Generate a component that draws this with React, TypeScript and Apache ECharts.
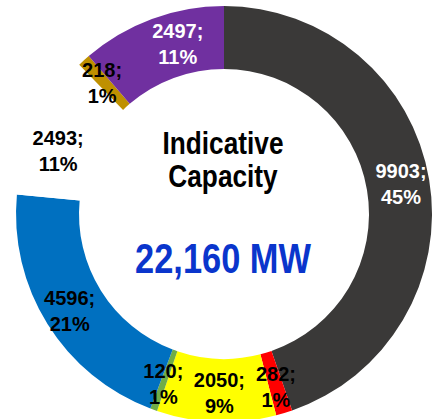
import React, { useEffect, useRef } from "react";
import * as echarts from "echarts";

const categories = ["A", "B", "C", "D", "E", "F", "G", "H"];
const values = [9903, 282, 2050, 120, 4596, 2493, 218, 2497];
const percents = ["45%", "1%", "9%", "1%", "21%", "11%", "1%", "11%"];
const colors = ["#3A3938", "#FF0000", "#FFFF00", "#70AD47", "#0070C0", "#FFFFFF", "#BF9000", "#7030A0"];
const labelColors = ["#FFFFFF", "#000000", "#000000", "#000000", "#000000", "#000000", "#000000", "#FFFFFF"];
const labelOffsets = [[0, 0], [0, 1], [2, 0], [0, 1], [-2, 2], [-4, 15], [-1, 2], [16, -2]];
const titleLines = ["Indicative", "Capacity"];
const totalText = "22,160 MW";

const FONT = "'Liberation Sans', Arial, sans-serif";

export default function App() {
  const ref = useRef<HTMLDivElement>(null);
  useEffect(() => {
    document.body.style.margin = "0";
    const chart = echarts.init(ref.current!, null, { renderer: "svg" });
    chart.setOption({
      animation: false,
      backgroundColor: "#FFFFFF",
      graphic: [
        {
          type: "text",
          x: 223,
          y: 127,
          scaleX: 0.82,
          style: {
            text: titleLines.join("\n"),
            font: `bold 32px ${FONT}`,
            fill: "#000000",
            textAlign: "center",
            textVerticalAlign: "top",
            lineHeight: 33,
          },
        },
        {
          type: "text",
          x: 223,
          y: 237,
          scaleX: 0.8,
          style: {
            text: totalText,
            font: `bold 43px ${FONT}`,
            fill: "#0A35CC",
            textAlign: "center",
            textVerticalAlign: "top",
          },
        },
      ],
      series: [
        {
          type: "pie",
          center: [224, 214],
          radius: [145, 208],
          startAngle: 90,
          clockwise: true,
          avoidLabelOverlap: false,
          label: {
            show: true,
            position: "inside",
            fontFamily: FONT,
            fontWeight: "bold",
            fontSize: 20,
            lineHeight: 26,
          },
          labelLine: { show: false },
          emphasis: { disabled: true },
          data: categories.map((c, i) => ({
            name: c,
            value: values[i],
            itemStyle: { color: colors[i] },
            label: {
              color: labelColors[i],
              offset: labelOffsets[i],
              formatter: `${values[i]};\n${percents[i]}`,
            },
          })),
        },
      ],
    });
    return () => chart.dispose();
  }, []);
  return <div ref={ref} style={{ width: 440, height: 419 }} />;
}
